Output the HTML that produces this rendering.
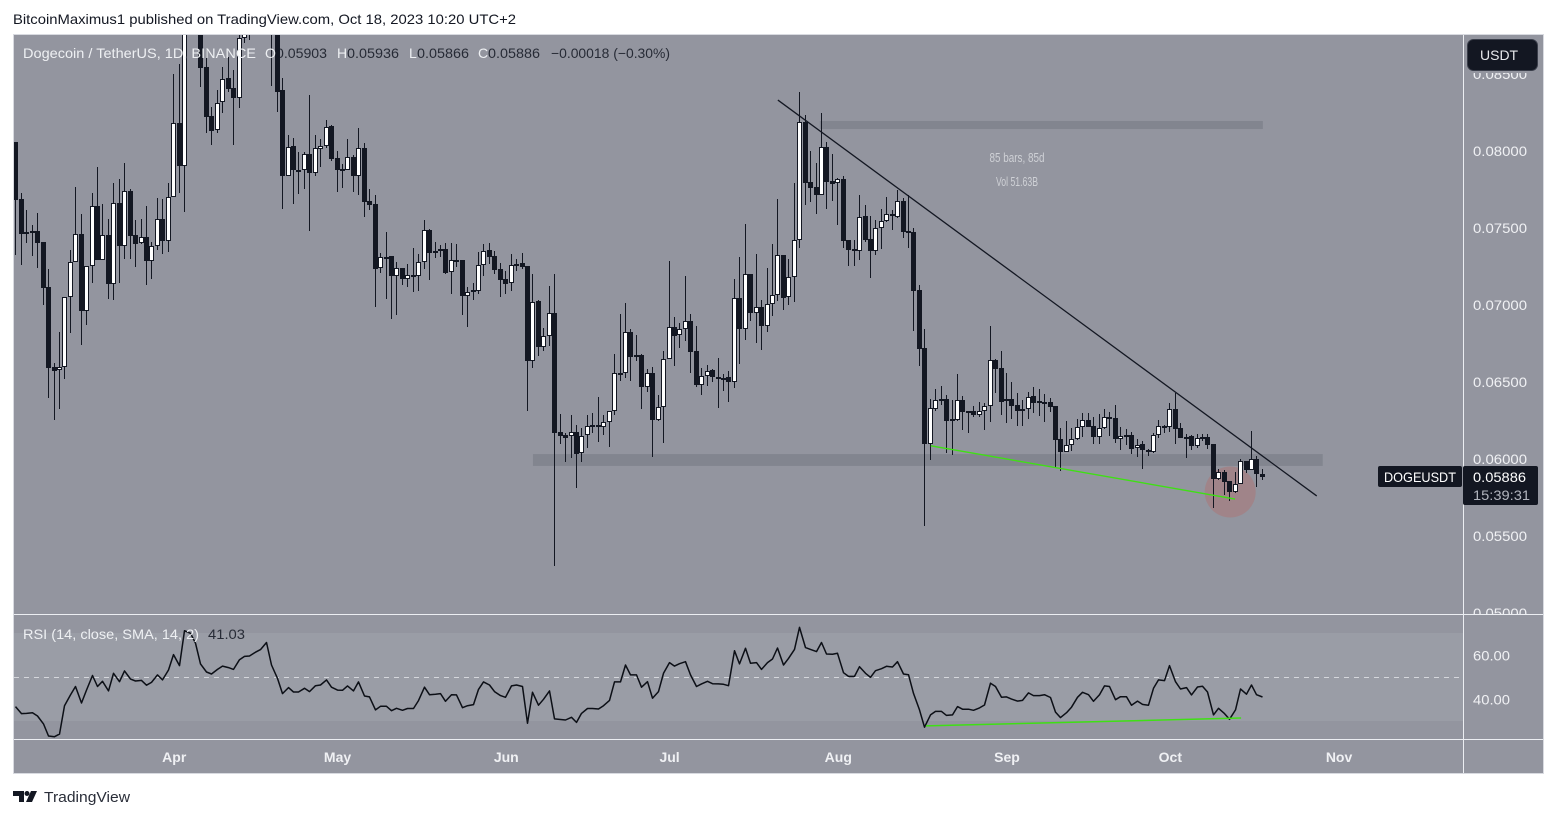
<!DOCTYPE html>
<html lang="en">
<head>
<meta charset="utf-8">
<title>DOGEUSDT chart</title>
<style>
html,body{margin:0;padding:0;background:#fff;width:1556px;height:818px;overflow:hidden}
svg{display:block;font-family:"Liberation Sans",sans-serif}
</style>
</head>
<body>
<svg id="root" xmlns="http://www.w3.org/2000/svg" width="1556" height="818" viewBox="0 0 1556 818">
  <defs>
    <clipPath id="mainClip"><rect x="14" y="35" width="1449" height="579"/></clipPath>
    <clipPath id="axisClip"><rect x="1464" y="73" width="79" height="541"/></clipPath>
    <clipPath id="rsiClip"><rect x="14" y="615" width="1449" height="124"/></clipPath>
  </defs>
  <text x="13" y="24" font-size="14" fill="#131722" textLength="503" lengthAdjust="spacingAndGlyphs">BitcoinMaximus1 published on TradingView.com, Oct 18, 2023 10:20 UTC+2</text>
  <rect x="13.5" y="34.5" width="1530" height="739" fill="#93959f" stroke="#d8dae0"/>
  <rect id="rsiBand" x="14" y="633" width="1449" height="88" fill="#9a9da6"/>
  <g id="zones" clip-path="url(#mainClip)"></g>
  <g id="candles" clip-path="url(#mainClip)"></g>
  <g id="drawings" clip-path="url(#mainClip)"></g>
  <g id="rsi" clip-path="url(#rsiClip)"></g>
  <rect x="1463" y="35" width="1" height="738" fill="#eceef2"/>
  <rect x="14" y="614" width="1529" height="1" fill="#eceef2"/>
  <rect x="14" y="739" width="1529" height="1" fill="#eceef2"/>
  <g id="priceAxis" clip-path="url(#axisClip)"></g>
  <g id="rsiAxis"></g>
  <g id="timeAxis"></g>

  <text x="1017" y="162" font-size="13" fill="#cfd1d6" text-anchor="middle" textLength="55" lengthAdjust="spacingAndGlyphs">85 bars, 85d</text>
  <text x="1017" y="186" font-size="13" fill="#cfd1d6" text-anchor="middle" textLength="42" lengthAdjust="spacingAndGlyphs">Vol 51.63B</text>

  <g font-size="14">
    <text x="23" y="58" fill="#eef0f3" textLength="233" lengthAdjust="spacingAndGlyphs">Dogecoin / TetherUS, 1D, BINANCE</text>
    <text x="265" y="58" fill="#eef0f3">O</text>
    <text x="276" y="58" fill="#131722" fill-opacity=".85" textLength="51" lengthAdjust="spacingAndGlyphs">0.05903</text>
    <text x="337" y="58" fill="#eef0f3">H</text>
    <text x="347" y="58" fill="#131722" fill-opacity=".85" textLength="52" lengthAdjust="spacingAndGlyphs">0.05936</text>
    <text x="409" y="58" fill="#eef0f3">L</text>
    <text x="417" y="58" fill="#131722" fill-opacity=".85" textLength="52" lengthAdjust="spacingAndGlyphs">0.05866</text>
    <text x="478" y="58" fill="#eef0f3">C</text>
    <text x="488" y="58" fill="#131722" fill-opacity=".85" textLength="52" lengthAdjust="spacingAndGlyphs">0.05886</text>
    <text x="551" y="58" fill="#131722" fill-opacity=".85" textLength="119" lengthAdjust="spacingAndGlyphs">−0.00018 (−0.30%)</text>
  </g>
  <g font-size="14">
    <text x="23" y="639" fill="#eef0f3" textLength="176" lengthAdjust="spacingAndGlyphs">RSI (14, close, SMA, 14, 2)</text>
    <text x="208" y="639" fill="#131722" fill-opacity=".85" textLength="37" lengthAdjust="spacingAndGlyphs">41.03</text>
  </g>

  <g>
    <rect x="1467.5" y="39.5" width="70" height="31" rx="6" fill="#131722" stroke="#3a3e4a"/>
    <text x="1480" y="60" font-size="14" fill="#e6e8ec">USDT</text>
  </g>
  <g>
    <rect x="1378" y="466" width="84" height="21" rx="2" fill="#131722"/>
    <text x="1384" y="482" font-size="14" fill="#ffffff" textLength="72" lengthAdjust="spacingAndGlyphs">DOGEUSDT</text>
    <rect x="1463" y="466" width="75" height="39" rx="2" fill="#131722"/>
    <text x="1473" y="482" font-size="14" fill="#ffffff" textLength="53" lengthAdjust="spacingAndGlyphs">0.05886</text>
    <text x="1473" y="500" font-size="14" fill="#b2b5be" textLength="57" lengthAdjust="spacingAndGlyphs">15:39:31</text>
  </g>

  <g fill="#131722">
    <path d="M13 791h11v11h-5v-6h-6z"/>
    <circle cx="27" cy="793.5" r="2.5"/>
    <path d="M31 791h6l-5 11h-6z"/>
    <text x="44" y="802" font-size="15" fill="#2a2e39" textLength="86" lengthAdjust="spacingAndGlyphs">TradingView</text>
  </g>
</svg>
<script>
// Prices below are in units of 0.00001 USDT.
const PRICE_UNIT = 0.00001;
const opens = [8059,7686,7474,7481,7478,7407,7117,6595,6575,6599,
7050,7277,7459,6963,7255,7641,7294,7452,7134,7660,
7385,7738,7454,7400,7439,7288,7381,7556,7418,7699,
8180,7905,9000,9350,9100,8546,8225,8137,8316,8472,
8407,8346,8732,9000,9100,9000,9150,9050,8950,8396,
7840,8030,7877,7875,7978,7859,8011,8035,8162,7952,
7881,7875,7963,7836,8017,7675,7654,7238,7314,7316,
7191,7238,7167,7193,7191,7277,7485,7349,7362,7362,
7212,7290,7290,7061,7095,7093,7258,7355,7316,7232,
7167,7141,7258,7271,7251,6638,7024,6729,6797,6946,
6173,6154,6147,6173,6037,6154,6218,6218,6210,6242,
6314,6561,6556,6822,6673,6673,6470,6556,6253,6340,
6647,6855,6803,6846,6894,6699,6483,6541,6576,6535,
6526,6530,6502,7043,6846,7199,6950,6985,6866,7004,
7063,7322,7049,7179,7420,8186,7796,7766,7716,8026,
7803,7790,7816,7420,7361,7348,7578,7426,7353,7498,
7543,7589,7573,7675,7478,7474,7097,6718,6099,6326,
6389,6389,6257,6255,6380,6313,6313,6287,6313,6346,
6640,6588,6387,6387,6348,6314,6327,6407,6374,6372,
6368,6342,6128,6048,6089,6128,6206,6251,6212,6145,
6199,6272,6264,6128,6154,6156,6069,6095,6058,6048,
6154,6214,6206,6323,6199,6145,6149,6084,6140,6141,
6097,5872,5915,5855,5788,5840,5987,5929,6000,5903];
const highs = [8061,7725,7617,7519,7595,7407,7234,6621,6822,7050,
7357,7766,7591,7255,7725,7896,7656,7556,7790,7816,
7920,7751,7552,7558,7641,7407,7695,7690,7790,8500,
8565,9200,9500,9500,9200,8660,8288,8396,8544,8613,
8526,8900,9100,9200,9200,9250,9250,9200,9050,8472,
8104,8082,7996,7996,8362,8104,8078,8201,8169,8002,
7916,8078,7974,8149,8050,7755,7714,7336,7472,7316,
7277,7238,7266,7370,7331,7552,7494,7409,7388,7403,
7403,7396,7290,7115,7141,7344,7396,7403,7351,7271,
7221,7331,7297,7338,7251,7201,7032,6851,7123,7201,
6292,6167,6286,6221,6199,6286,6296,6405,6286,6314,
6682,6942,7013,6844,6805,6682,6584,6595,6415,6701,
7286,6922,6885,7188,6939,6864,6593,6610,6584,6654,
6552,6569,7169,7312,7526,7199,7329,7032,7238,7394,
7688,7322,7298,7792,8381,8234,7999,7920,8247,8056,
7980,7827,7835,7420,7422,7714,7649,7578,7552,7621,
7701,7617,7747,7692,7714,7498,7129,6844,6387,6454,
6473,6415,6383,6551,6409,6313,6344,6372,6365,6863,
6647,6701,6556,6498,6431,6383,6433,6465,6455,6422,
6394,6342,6199,6247,6199,6258,6301,6301,6275,6292,
6327,6307,6351,6210,6193,6175,6128,6117,6065,6167,
6253,6221,6362,6426,6232,6162,6156,6162,6160,6160,
6097,5935,5928,5855,5915,5998,5987,6182,6019,5936];
const lows = [7325,7260,7400,7318,7242,7000,6396,6253,6327,6519,
6820,7277,6740,6870,7141,7292,7294,7039,7032,7141,
7297,7297,7244,7396,7130,7169,7357,7331,7344,7699,
7725,7606,8950,8950,8418,8119,8039,8115,8245,8385,
8039,8282,8700,8721,8764,8950,8950,8422,8256,7623,
7840,7656,7721,7753,7481,7840,7894,8017,7937,7734,
7758,7875,7736,7714,7574,7617,6989,7210,7041,6911,
6935,7130,7119,7087,7093,7234,7162,7305,7314,7201,
7071,7249,6935,6857,7032,7071,7188,7266,7201,7052,
7071,7091,7221,7234,6314,6593,6669,6701,6734,5307,
6097,5983,6009,5814,5983,6071,6167,6110,6156,6078,
6286,6506,6528,6506,6636,6325,6437,6013,6249,6104,
6647,6606,6721,6766,6558,6470,6415,6474,6498,6331,
6441,6370,6463,6619,6773,6896,6753,6708,6825,6929,
7028,6967,7000,7021,7368,7649,7671,7591,7716,7623,
7677,7519,7368,7255,7255,7292,7409,7177,7324,7361,
7541,7487,7567,7437,7372,6833,6606,5566,5993,6313,
6350,6041,6025,6248,6188,6170,6270,6270,6188,6240,
6426,6285,6235,6260,6216,6216,6260,6301,6281,6240,
6307,5944,5924,6048,6052,6123,6145,6206,6097,6097,
6193,6149,6106,6058,6091,6032,6013,5937,6019,6041,
6134,6167,6173,6097,6136,6006,6058,6074,6117,6065,
5682,5864,5766,5729,5781,5840,5907,5929,5820,5866];
const closes = [7682,7461,7463,7474,7405,7112,6593,6573,6599,7050,
7277,7459,6963,7255,7641,7292,7452,7136,7660,7385,
7738,7450,7396,7439,7286,7381,7556,7418,7699,8180,
7905,9000,9350,9100,8541,8223,8132,8314,8470,8403,
8346,8732,8950,9100,9000,9150,9050,8950,8385,7840,
8028,7879,7875,7978,7859,8017,8035,8158,7948,7877,
7872,7963,7840,8017,7671,7649,7236,7310,7312,7191,
7238,7167,7197,7191,7277,7485,7340,7340,7353,7208,
7290,7288,7058,7087,7087,7258,7353,7314,7230,7165,
7139,7258,7268,7249,6638,7022,6729,6797,6946,6171,
6151,6138,6173,6032,6151,6216,6216,6214,6242,6314,
6561,6554,6822,6664,6664,6470,6556,6253,6340,6647,
6855,6801,6846,6894,6697,6480,6541,6574,6535,6522,
6524,6502,7043,6846,7199,6950,6985,6866,7004,7063,
7323,7047,7179,7420,8186,7794,7762,7716,8024,7801,
7788,7816,7418,7359,7348,7569,7424,7350,7498,7543,
7589,7576,7673,7476,7467,7093,6716,6099,6328,6380,
6378,6248,6248,6380,6307,6307,6287,6313,6346,6640,
6586,6372,6378,6346,6314,6327,6400,6366,6370,6368,
6340,6123,6048,6089,6128,6206,6251,6210,6145,6199,
6271,6268,6132,6151,6152,6067,6093,6058,6054,6154,
6212,6210,6323,6195,6136,6143,6084,6138,6136,6091,
5872,5913,5853,5788,5840,5985,5929,5998,5905,5886];
const rsiValues = [36.7,33.5,33.6,33.9,32.4,28.8,23.3,23.0,24.2,37.1,
42.0,45.8,38.3,44.2,50.8,45.8,48.2,43.8,51.8,48.0,
52.9,49.2,48.3,48.6,46.4,47.7,51.1,48.8,53.3,60.3,
55.3,71.2,70.0,65.5,56.1,52.4,51.5,53.6,55.1,54.4,
53.6,58.0,59.5,59.7,61.4,62.6,65.8,55.6,49.5,42.6,
45.3,43.3,43.3,45.0,43.5,46.2,46.5,48.8,45.5,44.2,
44.1,46.1,43.8,47.9,41.5,41.1,35.2,36.8,36.8,34.8,
35.9,35.0,35.8,35.8,39.4,45.5,42.1,42.3,42.6,39.1,
42.1,42.0,36.2,37.1,37.6,44.5,47.9,46.5,43.5,41.7,
40.9,46.1,46.5,45.8,29.1,43.2,37.3,40.0,43.8,31.1,
30.8,30.6,31.8,29.5,33.6,35.8,35.8,35.6,37.1,39.5,
47.9,47.9,55.6,51.1,51.1,45.5,48.0,40.5,43.5,51.8,
56.7,55.1,56.2,57.1,51.1,45.8,47.0,48.2,47.1,47.0,
46.8,46.2,62.1,56.1,63.2,56.4,56.7,53.6,56.7,58.3,
63.3,55.6,58.6,62.7,72.7,63.5,62.7,61.7,65.8,60.6,
60.5,60.9,52.1,50.4,50.4,54.8,51.8,50.0,53.0,53.9,
55.0,54.7,57.1,51.5,51.2,42.7,35.2,27.3,32.9,34.5,
34.5,32.7,32.9,36.7,35.5,35.5,35.0,36.1,37.4,47.3,
45.8,40.9,41.1,40.1,39.2,39.5,42.9,41.7,41.7,42.1,
40.8,34.2,31.7,33.9,36.4,40.9,43.2,42.1,39.1,42.1,
46.1,45.8,39.8,41.2,41.2,37.3,39.2,37.7,37.3,45.0,
48.8,48.5,55.3,48.0,44.7,45.3,42.0,45.6,45.9,43.3,
32.9,35.9,33.5,30.9,35.2,44.7,42.3,46.5,42.1,41.03];
const priceTicks = [0.085,0.08,0.075,0.07,0.065,0.06,0.055,0.05];
const rsiTicks = [60,40];
const monthLabels = ["Apr","May","Jun","Jul","Aug","Sep","Oct","Nov"];
const monthBars = [29,59,90,120,151,182,212,243];
// Drawings, in bar index and price units.
const trendlineBars = [139.9,238.9];
const trendlinePrices = [8331,5760];
const supportBars = [168,223.9];
const supportPrices = [6086,5740];
const upperZoneBars = [147.6,229];
const upperZonePrices = [8195,8143];
const lowerZoneBars = [94.9,240];
const lowerZonePrices = [6032,5955];
const markerBar = [223];
const markerPrice = [5786];
const rsiSupportBars = [167.1,225];
const rsiSupportValues = [27.9,31.5];
const rsiLevels = [70,50,30];

const NS = 'http://www.w3.org/2000/svg';
const DARK = '#131722';
function xScale(bar){ return 16.4 + 5.443 * bar; }
function pxBar(bar){ return Math.floor(15.9 + 5.443 * bar); }
function yScale(price){ return 459 + (6000 - price) / 6.494; }
function rsiScale(v){ return 677.3 - (v - 50) * 2.2; }
function priceFromTick(t){ return t / PRICE_UNIT; }
function make(tag, parent, attrs){
  const el = document.createElementNS(NS, tag);
  for (const k in attrs) el.setAttribute(k, attrs[k]);
  parent.appendChild(el);
  return el;
}

const zones = document.getElementById('zones');
const candles = document.getElementById('candles');
const drawings = document.getElementById('drawings');
const rsi = document.getElementById('rsi');
const priceAxis = document.getElementById('priceAxis');
const rsiAxis = document.getElementById('rsiAxis');
const timeAxis = document.getElementById('timeAxis');

// Zones and marker sit beneath the candles
let upperZone = make('rect', zones, {x:xScale(upperZoneBars[0]), y:yScale(upperZonePrices[0]), width:xScale(upperZoneBars[1])-xScale(upperZoneBars[0]), height:yScale(upperZonePrices[1])-yScale(upperZonePrices[0]), fill:'#82858f'});


let lowerZone = make('rect', zones, {x:xScale(lowerZoneBars[0]), y:yScale(lowerZonePrices[0]), width:xScale(lowerZoneBars[1])-xScale(lowerZoneBars[0]), height:yScale(lowerZonePrices[1])-yScale(lowerZonePrices[0]), fill:'#82858f'});


let marker = make('circle', zones, {cx:xScale(markerBar[0]), cy:yScale(markerPrice[0]), r:25.5, fill:'#a08489'});



// Candles
opens.forEach(function(open, i){
  const close = closes[i];
  const px = pxBar(i);
  const up = close >= open;
  const top = Math.round(yScale(Math.max(open, close)));
  let bottom = Math.round(yScale(Math.min(open, close)));
  if (bottom - top < 2) bottom = top + 2;
  const hi = Math.round(yScale(highs[i]));
  const lo = Math.round(yScale(lows[i]));
  const wick = make('rect', candles, {x:px, y:hi, width:1, height:Math.max(1, lo-hi), fill:DARK});
  
  
  const body = make('rect', candles, {x:px-2, y:top, width:5, height:bottom-top, fill:DARK});
  
  
  if (up && bottom - top > 2) {
    const fill = make('rect', candles, {x:px-1, y:top+1, width:3, height:bottom-top-2, fill:'#ffffff'});
    
    
  }
});

// Trend lines
let trend = make('line', drawings, {x1:xScale(trendlineBars[0]), y1:yScale(trendlinePrices[0]), x2:xScale(trendlineBars[1]), y2:yScale(trendlinePrices[1]), stroke:DARK, 'stroke-width':1.3});


let support = make('line', drawings, {x1:xScale(supportBars[0]), y1:yScale(supportPrices[0]), x2:xScale(supportBars[1]), y2:yScale(supportPrices[1]), stroke:'#3fe014', 'stroke-width':1.4});



// RSI pane
rsiLevels.forEach(function(level){
  if (level === 50) {
    const dash = make('line', rsi, {x1:14, x2:1463, y1:Math.round(rsiScale(level))+0.5, y2:Math.round(rsiScale(level))+0.5, stroke:'#d4d6db', 'stroke-width':1, 'stroke-dasharray':'5 5'});
    
    
  }
});
let rsiPts = rsiValues.map(function(v, i){ return (pxBar(i)+0.5) + ',' + rsiScale(v).toFixed(1); }).join(' ');
let rsiLine = make('polyline', rsi, {points:rsiPts, fill:'none', stroke:'#0c0f16', 'stroke-width':1.5, 'stroke-linejoin':'round'});


let rsiSup = make('line', rsi, {x1:xScale(rsiSupportBars[0]), y1:rsiScale(rsiSupportValues[0]), x2:xScale(rsiSupportBars[1]), y2:rsiScale(rsiSupportValues[1]), stroke:'#3fe014', 'stroke-width':1.5});



// Axes
priceTicks.forEach(function(t){
  const label = make('text', priceAxis, {x:1473, y:yScale(priceFromTick(t))+5, 'font-size':14, fill:'#f0f1f4', textLength:54, lengthAdjust:'spacingAndGlyphs'});
  label.textContent = t.toFixed(5);
  
  
});
rsiTicks.forEach(function(t){
  const label = make('text', rsiAxis, {x:1473, y:rsiScale(t)+5, 'font-size':14, fill:'#f0f1f4', textLength:37, lengthAdjust:'spacingAndGlyphs'});
  label.textContent = t.toFixed(2);
  
  
});
monthLabels.forEach(function(m, i){
  const label = make('text', timeAxis, {x:xScale(monthBars[i]), y:762, 'font-size':14, 'font-weight':'bold', fill:'#f0f1f4', 'text-anchor':'middle'});
  label.textContent = m;
  
  
});
</script>
</body>
</html>
